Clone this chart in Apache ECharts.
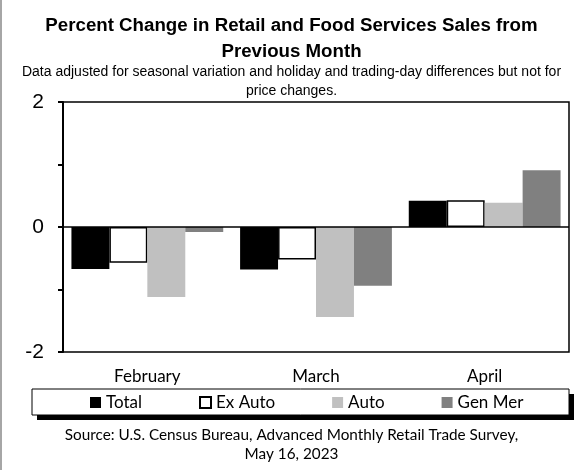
<!DOCTYPE html>
<html>
<head>
<meta charset="utf-8">
<script src="https://cdn.jsdelivr.net/npm/echarts@6/dist/echarts.min.js"></script>
<style>
html,body{margin:0;padding:0;background:#fff;}
#wrap{position:relative;width:583px;height:470px;}
#chart{width:583px;height:470px;}
#edge{position:absolute;left:0;top:0;width:2px;height:470px;background:#a6a6a6;}
</style>
</head>
<body>
<div id="wrap"><div id="chart"></div><div id="edge"></div></div>
<script>
const categories = ['February', 'March', 'April'];
const totalValues = [-0.67, -0.68, 0.42];
const exAutoValues = [-0.57, -0.52, 0.43];
const autoValues = [-1.12, -1.44, 0.39];
const genMerValues = [-0.08, -0.94, 0.91];
const yTickLabels = { '-2': '-2', '0': '0', '2': '2' };

const chart = echarts.init(document.getElementById('chart'), null, { renderer: 'canvas' });
const sans = 'Liberation Sans, Arial, sans-serif';
const cal = 'Lato, Carlito, sans-serif';

chart.setOption({
  animation: false,
  backgroundColor: '#fff',
  title: [
    { text: 'Percent Change in Retail and Food Services Sales from\nPrevious Month', left: 'center', top: 8,
      textStyle: { fontFamily: sans, fontSize: 18.7, fontWeight: 'bold', color: '#000', lineHeight: 26 } },
    { text: 'Data adjusted for seasonal variation and holiday and trading-day differences but not for\nprice changes.', left: 'center', top: 57,
      textStyle: { fontFamily: sans, fontSize: 14, fontWeight: 'normal', color: '#000', lineHeight: 19.5 } },
    { text: 'Source: U.S. Census Bureau, Advanced Monthly Retail Trade Survey,\nMay 16, 2023', left: 'center', top: 420.5,
      textStyle: { fontFamily: cal, fontSize: 15.3, fontWeight: 'normal', color: '#000', lineHeight: 19 } }
  ],
  graphic: [
    { type: 'rect', z: 1, shape: { x: 37, y: 394, width: 537, height: 26 }, style: { fill: '#000' } },
    { type: 'rect', z: 2, shape: { x: 32, y: 389, width: 537, height: 26 }, style: { fill: '#fff', stroke: '#000', lineWidth: 1 } }
  ],
  legend: {
    left: 90, top: 394, orient: 'horizontal', z: 10,
    padding: 0, itemGap: 57, itemWidth: 11, itemHeight: 11, icon: 'rect',
    textStyle: { fontFamily: cal, fontSize: 17, color: '#000' }
  },
  grid: { left: 63, right: 14, top: 102, height: 250, show: true, borderColor: '#000', borderWidth: 1.5, backgroundColor: 'transparent' },
  xAxis: {
    type: 'category', data: categories,
    axisLine: { show: false }, axisTick: { show: false },
    axisLabel: { fontFamily: cal, fontSize: 17, color: '#000', margin: 16 }
  },
  yAxis: {
    type: 'value', min: -2, max: 2, interval: 1,
    axisLine: { show: true, lineStyle: { color: '#000', width: 2 } },
    axisTick: { show: true, length: 5, lineStyle: { color: '#000', width: 2 } },
    splitLine: { show: false },
    axisLabel: { fontFamily: sans, fontSize: 21, color: '#000', margin: 19,
      formatter: v => (yTickLabels[String(v)] !== undefined ? yTickLabels[String(v)] : '') }
  },
  series: [
    { name: 'Total', type: 'bar', data: totalValues, barGap: '0%', barCategoryGap: '10%',
      itemStyle: { color: '#000' },
      markLine: { silent: true, symbol: 'none', label: { show: false },
        lineStyle: { color: '#000', width: 1.5, type: 'solid' }, data: [{ yAxis: 0 }] } },
    { name: 'Ex Auto', type: 'bar', data: exAutoValues, barGap: '0%', barCategoryGap: '10%',
      itemStyle: { color: '#fff', borderColor: '#000', borderWidth: 1.5 } },
    { name: 'Auto', type: 'bar', data: autoValues, barGap: '0%', barCategoryGap: '10%',
      itemStyle: { color: '#c0c0c0' } },
    { name: 'Gen Mer', type: 'bar', data: genMerValues, barGap: '0%', barCategoryGap: '10%',
      itemStyle: { color: '#808080' } }
  ]
});
</script>
</body>
</html>
